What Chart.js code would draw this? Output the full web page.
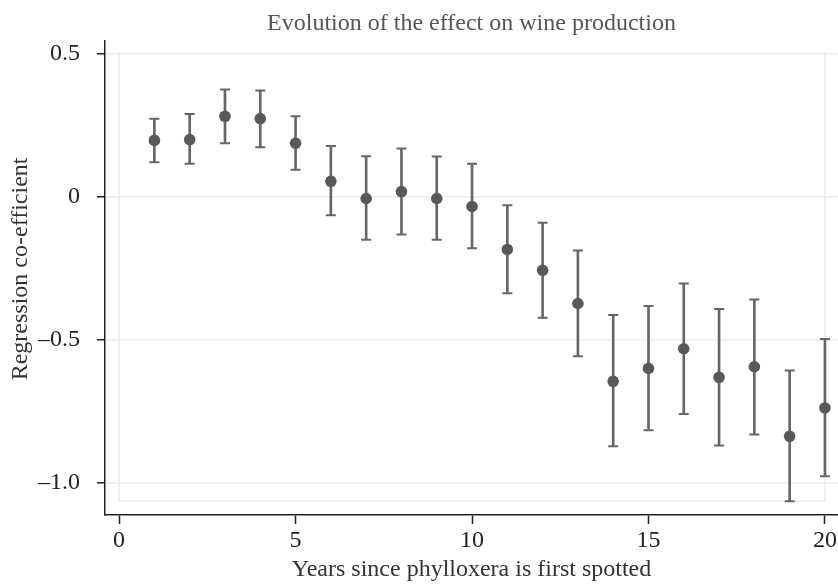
<!DOCTYPE html>
<html>
<head>
<meta charset="utf-8">
<title>Evolution of the effect on wine production</title>
<script src="https://cdn.jsdelivr.net/npm/chart.js@4/dist/chart.umd.min.js"></script>
<style>
    html, body { margin: 0; padding: 0; background: #ffffff; }
    #wrap { width: 838px; height: 585px; }
</style>
</head>
<body>
<div id="wrap"><canvas id="effectChart"></canvas></div>
<script>
// Years since phylloxera is first spotted
const years = [1, 2, 3, 4, 5, 6, 7, 8, 9, 10, 11, 12, 13, 14, 15, 16, 17, 18, 19, 20];
// Point estimates and the ends of the confidence intervals
const coef  = [0.196, 0.199, 0.280, 0.272, 0.186, 0.053, -0.007, 0.017, -0.007, -0.035,
               -0.185, -0.258, -0.374, -0.646, -0.601, -0.532, -0.632, -0.595, -0.838, -0.739];
const upper = [0.272, 0.288, 0.374, 0.370, 0.280, 0.176, 0.141, 0.168, 0.140, 0.114,
               -0.031, -0.092, -0.189, -0.414, -0.383, -0.304, -0.393, -0.360, -0.608, -0.498];
const lower = [0.120, 0.114, 0.186, 0.172, 0.093, -0.066, -0.151, -0.133, -0.151, -0.181,
               -0.338, -0.424, -0.558, -0.873, -0.817, -0.760, -0.870, -0.832, -1.065, -0.978];

// Tick values on each axis
const xTicks = [0, 5, 10, 15, 20];
const yTicks = [0.5, 0, -0.5, -1.0];

// Light frame around the data region (x from 0 to 20, y from the lowest interval to 0.5)
const frameX = [0, 20];
const frameY = [-1.065, 0.5];

const serif = '"Liberation Serif", "Times New Roman", serif';
const gridGrey = '#ececec';
const axisDark = '#222222';

// Build the point lists the library needs
const pointData = years.map((x, i) => ({ x: x, y: coef[i] }));
const whiskerData = years.map((x, i) => ({ x: x, y: [lower[i], upper[i]] }));
const upperCaps = years.map((x, i) => ({ x: x, y: upper[i] }));
const lowerCaps = years.map((x, i) => ({ x: x, y: lower[i] }));

// Draws the light frame behind the marks
const framePlugin = {
    id: 'frame',
    beforeDatasetsDraw(chart) {
        const xs = chart.scales.x;
        const ys = chart.scales.y;
        const ctx = chart.ctx;
        const left = xs.getPixelForValue(frameX[0]);
        const right = xs.getPixelForValue(frameX[1]);
        const top = ys.getPixelForValue(frameY[1]);
        const bottom = ys.getPixelForValue(frameY[0]);
        ctx.save();
        ctx.strokeStyle = gridGrey;
        ctx.lineWidth = 1.5;
        ctx.strokeRect(left, top, right - left, bottom - top);
        ctx.restore();
    }
};

// Format tick values like the original (en dash for minus sign)
function formatY(value) {
    if (Math.abs(value) < 1e-9) return '0';
    return (value < 0 ? '\u2013' : '') + Math.abs(value).toFixed(1);
}

const ctx = document.getElementById('effectChart').getContext('2d');
new Chart(ctx, {
    type: 'bar',
    data: {
        datasets: [
            {
                type: 'scatter',
                label: 'Coefficient',
                data: pointData,
                backgroundColor: '#595959',
                borderColor: '#595959',
                borderWidth: 0,
                pointRadius: 5.8,
                order: 0
            },
            {
                type: 'scatter',
                label: 'Upper',
                data: upperCaps,
                pointStyle: 'line',
                pointRadius: 5,
                borderColor: '#666666',
                borderWidth: 2,
                order: 1
            },
            {
                type: 'scatter',
                label: 'Lower',
                data: lowerCaps,
                pointStyle: 'line',
                pointRadius: 5,
                borderColor: '#666666',
                borderWidth: 2,
                order: 1
            },
            {
                type: 'bar',
                label: 'Interval',
                data: whiskerData,
                backgroundColor: '#666666',
                borderWidth: 0,
                barThickness: 2,
                grouped: false,
                order: 2
            }
        ]
    },
    options: {
        responsive: true,
        maintainAspectRatio: false,
        animation: false,
        // no automatic padding: the last point sits right at the edge
        layout: { padding: 0, autoPadding: false },
        plugins: {
            legend: { display: false },
            tooltip: { enabled: false },
            title: {
                display: true,
                fullSize: false, // centre over the plot area, not the canvas
                text: 'Evolution of the effect on wine production',
                color: '#555555',
                font: { family: serif, size: 24, weight: 'normal', lineHeight: 1.2 },
                padding: { top: 9, bottom: 3 }
            }
        },
        scales: {
            x: {
                type: 'linear',
                min: -0.4,
                max: 20.37,
                offset: false,
                afterFit(scale) {
                    scale.height = 70;
                    scale.paddingLeft = 0;
                    scale.paddingRight = 0;
                },
                afterBuildTicks(scale) { scale.ticks = xTicks.map(v => ({ value: v })); },
                ticks: {
                    color: axisDark,
                    padding: 2,
                    maxRotation: 0,
                    font: { family: serif, size: 24, lineHeight: 1.2 }
                },
                grid: {
                    offset: false,
                    drawOnChartArea: false,
                    tickLength: 9,
                    tickColor: axisDark,
                    tickWidth: 1.5
                },
                border: { color: axisDark, width: 1.5 },
                title: {
                    display: true,
                    text: 'Years since phylloxera is first spotted',
                    color: '#333333',
                    font: { family: serif, size: 24, lineHeight: 1.2 },
                    padding: { top: 0, bottom: 1 }
                }
            },
            y: {
                type: 'linear',
                min: -1.113,
                max: 0.544,
                afterFit(scale) {
                    scale.width = 105;
                    scale.paddingTop = 0;
                    scale.paddingBottom = 0;
                },
                afterBuildTicks(scale) { scale.ticks = yTicks.map(v => ({ value: v })); },
                ticks: {
                    color: axisDark,
                    padding: 17,
                    font: { family: serif, size: 24, lineHeight: 1 },
                    callback: value => formatY(value)
                },
                grid: {
                    color: gridGrey,
                    lineWidth: 1.5,
                    tickLength: 8,
                    tickColor: axisDark,
                    tickWidth: 1.5
                },
                border: { color: axisDark, width: 1.5 },
                title: {
                    display: true,
                    // leading spaces nudge the rotated label upward, as in the original
                    text: '   Regression co-efficient',
                    color: '#333333',
                    font: { family: serif, size: 24, lineHeight: 1.2 },
                    padding: { top: 6, bottom: 0 }
                }
            }
        }
    },
    plugins: [framePlugin]
});
</script>
</body>
</html>
